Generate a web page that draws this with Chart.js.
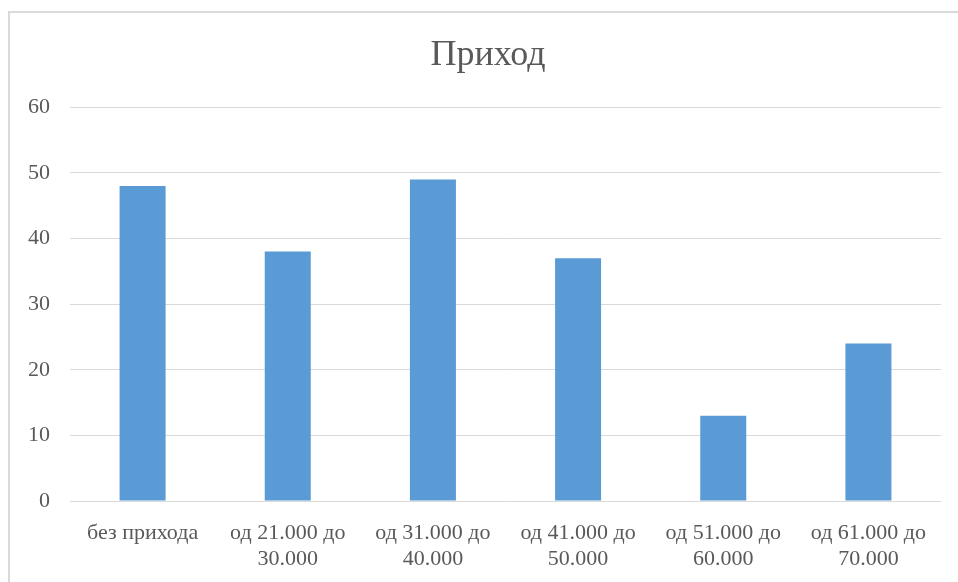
<!DOCTYPE html>
<html>
<head>
<meta charset="utf-8">
<script src="https://cdn.jsdelivr.net/npm/chart.js@4/dist/chart.umd.min.js"></script>
<style>
  html, body { margin: 0; padding: 0; background: #ffffff; }
  #frame {
    position: absolute; left: 8px; top: 11px; width: 960px; height: 580px;
    border-top: 2px solid #d9d9d9; border-left: 2px solid #d9d9d9;
    box-sizing: border-box;
  }
  #wrap { position: absolute; left: 0; top: 0; width: 958px; height: 582px; }
</style>
</head>
<body>
<div id="frame"></div>
<div id="wrap"><canvas id="chart" width="958" height="582"></canvas></div>
<script>
// Income brackets and respondent counts
const categories = [
  ['без прихода'],
  ['од 21.000 до', '30.000'],
  ['од 31.000 до', '40.000'],
  ['од 41.000 до', '50.000'],
  ['од 51.000 до', '60.000'],
  ['од 61.000 до', '70.000']
];
const counts = [48, 38, 49, 37, 13, 24];
const yTicks = [0, 10, 20, 30, 40, 50, 60];
const chartTitle = 'Приход';

const serif = '"Liberation Serif", "Times New Roman", serif';
const textColor = '#595959';

// Centre the title over the frame rather than over the full canvas width
const titleOffset = {
  id: 'titleOffset',
  afterLayout(chart) {
    if (chart.titleBlock) chart.titleBlock.left = 35;
  }
};

new Chart(document.getElementById('chart'), {
  type: 'bar',
  data: {
    labels: categories,
    datasets: [{
      data: counts,
      backgroundColor: '#5b9bd5',
      borderWidth: 0,
      categoryPercentage: 1,
      barPercentage: 0.317
    }]
  },
  plugins: [titleOffset],
  options: {
    responsive: false,
    animation: false,
    layout: { padding: { left: 0, right: 17, top: 0, bottom: 0 } },
    plugins: {
      legend: { display: false },
      tooltip: { enabled: false },
      title: {
        display: true,
        text: chartTitle,
        color: textColor,
        font: { family: serif, size: 36, weight: 'normal', lineHeight: 1.2 },
        padding: { top: 34, bottom: 30 }
      }
    },
    scales: {
      x: {
        grid: { display: false },
        border: { display: false },
        ticks: {
          color: textColor,
          font: { family: serif, size: 22, lineHeight: 1.2 },
          padding: 11,
          maxRotation: 0,
          autoSkip: false
        },
        afterFit: (s) => { s.height = 81; }
      },
      y: {
        min: 0,
        max: 60,
        afterBuildTicks: (s) => { s.ticks = yTicks.map(v => ({ value: v })); },
        grid: { color: '#d9d9d9', lineWidth: 1, drawTicks: false },
        border: { display: false },
        ticks: {
          color: textColor,
          font: { family: serif, size: 22 },
          padding: 20
        },
        afterFit: (s) => { s.width = 70; }
      }
    }
  }
});
</script>
</body>
</html>
